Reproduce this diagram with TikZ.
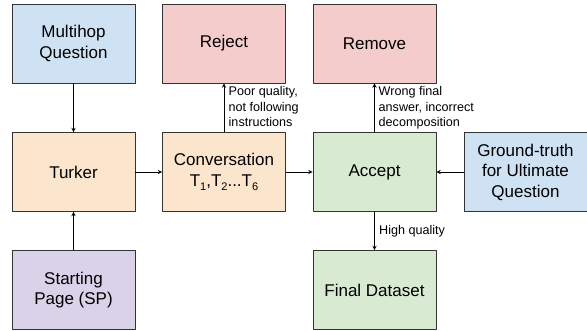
\documentclass[tikz,border=0pt]{standalone}
\usepackage{fontspec}
\setmainfont{Liberation Sans}
\definecolor{qblue}{HTML}{CFE2F3}
\definecolor{rpink}{HTML}{F4CCCC}
\definecolor{torange}{HTML}{FCE5CD}
\definecolor{agreen}{HTML}{D9EAD3}
\definecolor{spurple}{HTML}{D9D2E9}
\definecolor{edge}{HTML}{333333}
\newcommand{\tsub}[1]{\raisebox{-0.5ex}{\fontsize{11}{11}\selectfont #1}}
\begin{document}
\begin{tikzpicture}[x=1pt,y=-1pt,>=stealth,line join=round,
	box/.style={draw=edge,line width=0.9pt,minimum width=123pt,minimum height=79pt,inner sep=0pt,align=center,font=\fontsize{17}{20.5}\selectfont},
	lbl/.style={align=left,inner sep=0pt,anchor=north west,font=\fontsize{12.6}{15.5}\selectfont}]
	\useasboundingbox (0,0) rectangle (587,331);
	% top row
	\node [box,fill=qblue] (mq) at (73.5,43.5) {Multihop\\Question};
	\node [box,fill=rpink] (rej) at (224,43.5) {Reject};
	\node [box,fill=rpink] (rem) at (374.5,43.5) {Remove};
	% middle row
	\node [box,fill=torange] (turk) at (73.5,172) {Turker};
	\node [box,fill=torange] (conv) at (224,172) {Conversation\\T\tsub{1},T\tsub{2}...T\tsub{6}};
	\node [box,fill=agreen] (acc) at (374.5,172) {Accept};
	\node [box,fill=qblue] (gt) at (525.5,172) {Ground-truth\\for Ultimate\\Question};
	% bottom row
	\node [box,fill=spurple] (sp) at (73.5,290) {Starting\\Page (SP)};
	\node [box,fill=agreen] (fd) at (374.5,290) {Final Dataset};
	% connectors
	\draw [->,line width=0.9pt] (mq)--(turk);
	\draw [->,line width=0.9pt] (sp)--(turk);
	\draw [->,line width=0.9pt] (turk)--(conv);
	\draw [->,line width=0.9pt] (conv)--(acc);
	\draw [->,line width=0.9pt] (gt)--(acc);
	\draw [->,line width=0.9pt] (conv)--(rej);
	\draw [->,line width=0.9pt] (acc)--(rem);
	\draw [->,line width=0.9pt] (acc)--(fd);
	% labels
	\node [lbl] (pq) at (228.5,86.5) {Poor quality,\\not following\\instructions};
	\node [lbl] (wf) at (378.5,86.5) {Wrong final\\answer, incorrect\\decomposition};
	\node [lbl] (hq) at (379,225.5) {High quality};
\end{tikzpicture}
\end{document}
